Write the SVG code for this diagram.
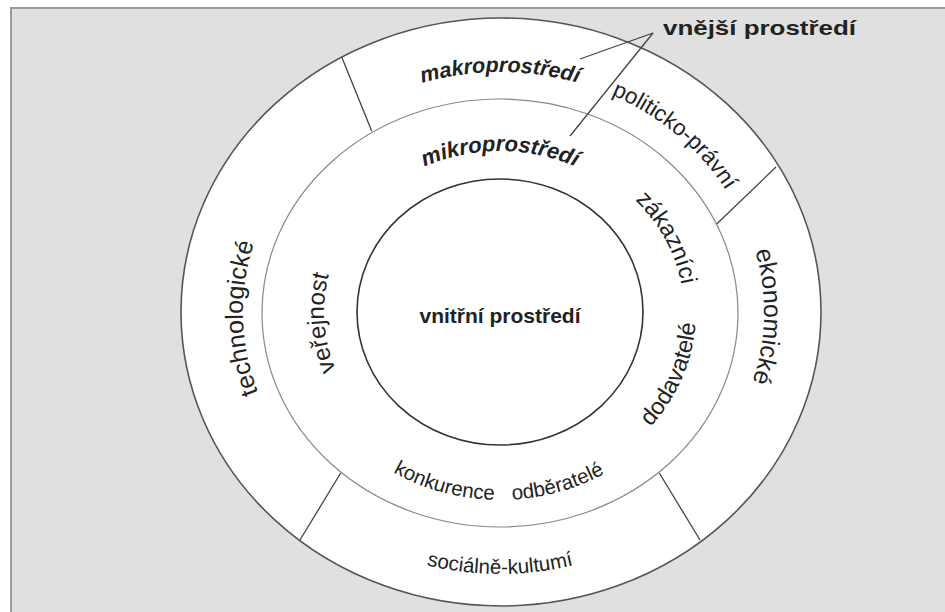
<svg xmlns="http://www.w3.org/2000/svg" xmlns:xlink="http://www.w3.org/1999/xlink" width="945" height="612" viewBox="0 0 945 612">
<style>
.t{font-family:"Liberation Sans",Arial,sans-serif;fill:#222;}
.b{font-weight:bold;}
.bi{font-weight:bold;font-style:italic;}
.div{stroke:#444;stroke-width:1.3;fill:none;}
</style>
<defs>
<path id="pMakro" d="M253.8,229.9 A262,240 0 0 1 746.2,229.9"/>
<path id="pPol" d="M427.8,81.3 A262,240 0 0 1 754.2,370.1"/>
<path id="pEko" d="M636,108 A264,238 0 0 1 628,520.2"/>
<path id="pTech" d="M377,521 A257,238 0 0 1 366.1,108.8"/>
<path id="pSoc" d="M281.7,480.4 A285,262 0 0 0 718.3,480.4"/>
<path id="pMikro" d="M326.7,284 A176,161 0 0 1 673.3,284"/>
<path id="pZak" d="M517.6,147.8 A184,165 0 0 1 649.8,407.8"/>
<path id="pVer" d="M421.8,456.2 A176,161 0 0 1 402.6,177.9"/>
<path id="pDod" d="M532,488.6 A196,179 0 0 0 651.4,198.4"/>
<path id="pBot" d="M307.4,376.3 A205,188 0 0 0 692.6,376.3"/>
</defs>
<rect x="11" y="8" width="960" height="640" fill="#e0e0e0" stroke="#9b9b9b" stroke-width="2"/>
<g id="outer">
<ellipse cx="501" cy="312" rx="320" ry="294" fill="#fff" stroke="#555" stroke-width="1.6"/>
</g>
<g id="middle">
<ellipse cx="500" cy="313" rx="238" ry="214" fill="none" stroke="#888" stroke-width="1.2"/>
</g>
<g id="inner">
<ellipse cx="500" cy="312" rx="143" ry="133" fill="none" stroke="#333" stroke-width="1.6"/>
<text class="t b" x="500" y="323" font-size="21" text-anchor="middle">vnitřní prostředí</text>
</g>
<g id="connectors">
<line class="div" x1="341.7" y1="57" x2="371.7" y2="131"/>
<line class="div" x1="776" y1="167" x2="716.7" y2="224"/>
<line class="div" x1="659.3" y1="473" x2="700" y2="540"/>
<line class="div" x1="340.7" y1="473" x2="300" y2="540"/>
<line class="div" x1="653" y1="33" x2="580" y2="59"/>
<line class="div" x1="653" y1="33" x2="570" y2="136"/>
</g>
<g id="label-vnejsi">
<text class="t b" x="663" y="35" font-size="21" textLength="193" lengthAdjust="spacingAndGlyphs">vnější prostředí</text>
</g>
<g id="macro-labels">
<text class="t bi" font-size="21.5"><textPath xlink:href="#pMakro" href="#pMakro" startOffset="50%" text-anchor="middle">makroprostředí</textPath></text>
<text class="t" font-size="22.5"><textPath xlink:href="#pPol" href="#pPol" startOffset="50%" text-anchor="middle">politicko-právní</textPath></text>
<text class="t" font-size="25"><textPath xlink:href="#pEko" href="#pEko" startOffset="50%" text-anchor="middle">ekonomické</textPath></text>
<text class="t" font-size="25"><textPath xlink:href="#pTech" href="#pTech" startOffset="50%" text-anchor="middle">technologické</textPath></text>
<text class="t" font-size="20.5"><textPath xlink:href="#pSoc" href="#pSoc" startOffset="50%" text-anchor="middle">sociálně-kultumí</textPath></text>
</g>
<g id="micro-labels">
<text class="t bi" font-size="22"><textPath xlink:href="#pMikro" href="#pMikro" startOffset="50%" text-anchor="middle">mikroprostředí</textPath></text>
<text class="t" font-size="23.5"><textPath xlink:href="#pZak" href="#pZak" startOffset="50%" text-anchor="middle">zákazníci</textPath></text>
<text class="t" font-size="24"><textPath xlink:href="#pVer" href="#pVer" startOffset="50%" text-anchor="middle">veřejnost</textPath></text>
<text class="t" font-size="23.5"><textPath xlink:href="#pDod" href="#pDod" startOffset="50%" text-anchor="middle">dodavatelé</textPath></text>
<text class="t" font-size="20.5"><textPath xlink:href="#pBot" href="#pBot" startOffset="37.9%" text-anchor="middle">konkurence</textPath></text>
<text class="t" font-size="20.5"><textPath xlink:href="#pBot" href="#pBot" startOffset="62.5%" text-anchor="middle">odběratelé</textPath></text>
</g>
</svg>
